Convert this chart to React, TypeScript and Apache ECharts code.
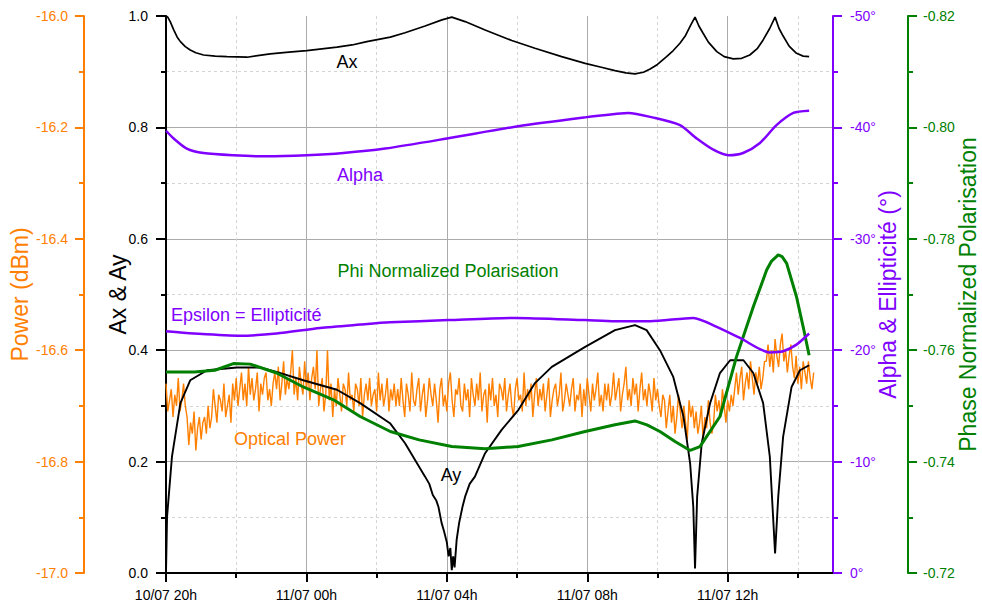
import React, { useEffect, useRef } from "react";
import * as echarts from "echarts";

const FONT = '"Liberation Sans", Arial, Helvetica, sans-serif';
const C_BLACK = "#000000";
const C_ORANGE = "#FF8000";
const C_PURPLE = "#8000FF";
const C_GREEN = "#008000";

// x values are hours elapsed since 10/07 20h
const X_MAJOR = [0, 4, 8, 12, 16];
const X_MINOR = [2, 6, 10, 14, 18];

// Ax (0..1)
const AX: [number, number][] = [
  [0, 1.0], [0.05, 0.998], [0.12, 0.99], [0.22, 0.975], [0.32, 0.962], [0.41, 0.954], [0.55, 0.945],
  [0.69, 0.939], [0.85, 0.934], [1.07, 0.93], [1.4, 0.928], [1.74, 0.927], [2.31, 0.926], [2.97, 0.932],
  [3.5, 0.935], [4.01, 0.938], [4.87, 0.944], [5.3, 0.948], [5.72, 0.954], [6.39, 0.962], [6.81, 0.97],
  [7.38, 0.982], [7.86, 0.993], [8.14, 0.998], [8.52, 0.99], [9.09, 0.975], [9.85, 0.956], [10.51, 0.942],
  [11.27, 0.927], [11.94, 0.915], [12.4, 0.908], [12.79, 0.902], [13.1, 0.898], [13.36, 0.896], [13.6, 0.899],
  [13.79, 0.905], [14.0, 0.913], [14.26, 0.927], [14.45, 0.938], [14.64, 0.951], [14.8, 0.965], [14.95, 0.984],
  [15.07, 0.998], [15.18, 0.982], [15.3, 0.969], [15.45, 0.953], [15.69, 0.936], [15.9, 0.927], [16.16, 0.923],
  [16.4, 0.924], [16.63, 0.93], [16.85, 0.942], [17.01, 0.957], [17.2, 0.978], [17.35, 0.998], [17.46, 0.978],
  [17.58, 0.964], [17.75, 0.946], [17.96, 0.933], [18.15, 0.928], [18.32, 0.927],
];

// Ay (0..1)
const AY: [number, number][] = [
  [0, 0.0], [0.03, 0.101], [0.17, 0.209], [0.41, 0.305], [0.69, 0.346], [1.17, 0.364], [2.02, 0.369],
  [2.68, 0.369], [3.15, 0.361], [3.91, 0.346], [4.87, 0.329], [5.53, 0.305], [6.38, 0.269], [6.81, 0.233],
  [7.38, 0.173], [7.5, 0.16], [7.6, 0.14], [7.7, 0.13], [7.76, 0.119], [7.85, 0.09], [7.92, 0.075],
  [8.0, 0.055], [8.05, 0.03], [8.1, 0.045], [8.14, 0.005], [8.18, 0.03], [8.22, 0.01], [8.28, 0.06],
  [8.35, 0.09], [8.45, 0.12], [8.52, 0.137], [8.65, 0.16], [8.8, 0.173], [9.09, 0.215], [9.56, 0.257],
  [10.04, 0.293], [10.51, 0.341], [10.99, 0.37], [11.94, 0.406], [12.79, 0.436], [13.36, 0.445],
  [13.69, 0.436], [14.07, 0.4], [14.45, 0.352], [14.74, 0.281], [14.93, 0.197], [15.02, 0.119],
  [15.07, 0.008], [15.13, 0.137], [15.26, 0.233], [15.5, 0.305], [15.78, 0.359], [16.07, 0.382],
  [16.45, 0.382], [16.73, 0.359], [17.01, 0.305], [17.2, 0.209], [17.35, 0.035], [17.44, 0.137],
  [17.58, 0.245], [17.82, 0.334], [18.06, 0.364], [18.32, 0.373],
];

// Alpha (degrees)
const ALPHA: [number, number][] = [
  [0, -39.7], [0.22, -39.0], [0.59, -38.1], [1.07, -37.7], [1.92, -37.5], [2.87, -37.4], [4.01, -37.5],
  [5.05, -37.7], [6.24, -38.1], [8.0, -39.0], [10.03, -40.1], [11.94, -40.9], [12.79, -41.2], [13.17, -41.3],
  [13.85, -40.9], [14.64, -40.2], [15.12, -39.0], [15.59, -38.0], [16.02, -37.5], [16.44, -37.7],
  [16.92, -38.6], [17.39, -40.2], [17.87, -41.3], [18.32, -41.5],
];

// Epsilon = ellipticity (degrees)
const EPSILON: [number, number][] = [
  [0, -21.7], [0.79, -21.5], [2.11, -21.3], [3.15, -21.5], [4.39, -22.0], [5.53, -22.3], [6.38, -22.5],
  [8.04, -22.7], [9.94, -22.9], [11.94, -22.7], [12.79, -22.6], [13.79, -22.6], [15.02, -22.9],
  [15.69, -22.1], [16.35, -21.1], [17.2, -19.8], [17.58, -19.9], [17.96, -20.5], [18.32, -21.5],
];

// Phi normalized polarisation
const PHI: [number, number][] = [
  [0, -0.7561], [0.81, -0.7561], [1.39, -0.7564], [1.92, -0.7576], [2.4, -0.7575], [3.15, -0.7559],
  [3.91, -0.7534], [4.77, -0.7511], [5.53, -0.7481], [6.39, -0.7454], [7.21, -0.7439], [8.14, -0.7427],
  [9.09, -0.7423], [10.03, -0.7427], [10.99, -0.7439], [11.94, -0.7454], [12.79, -0.7466], [13.36, -0.7473],
  [13.7, -0.7466], [14.07, -0.7454], [14.5, -0.7436], [14.93, -0.742], [15.21, -0.7427], [15.78, -0.7481],
  [16.25, -0.7588], [16.73, -0.7678], [17.11, -0.7744], [17.25, -0.776], [17.44, -0.7771], [17.55, -0.7768],
  [17.68, -0.7756], [17.96, -0.7696], [18.15, -0.7642], [18.32, -0.7591],
];

// Optical power (dBm), one reading every 0.05 h from 10/07 20h
const POWER_STEP = 0.05;
const POWER: number[] = [
  -16.66, -16.71, -16.69, -16.67, -16.72, -16.68, -16.70, -16.65, -16.71, -16.69, -16.66, -16.70,
  -16.72, -16.77, -16.73, -16.75, -16.71, -16.78, -16.74, -16.72, -16.76, -16.73,
  -16.72, -16.75, -16.70, -16.74,
  -16.72, -16.67, -16.70, -16.73, -16.68, -16.69, -16.71, -16.66, -16.72, -16.70, -16.68, -16.73,
  -16.66, -16.69, -16.65, -16.70,
  -16.67, -16.64, -16.69, -16.66, -16.70, -16.63, -16.68, -16.65, -16.69, -16.67,
  -16.64, -16.71, -16.66, -16.68, -16.65, -16.64, -16.69, -16.67, -16.70, -16.66,
  -16.64, -16.67, -16.63, -16.69, -16.66, -16.62, -16.68, -16.65, -16.67, -16.64,
  -16.60, -16.68, -16.65, -16.69, -16.63, -16.66, -16.68, -16.62, -16.67, -16.64,
  -16.69, -16.65, -16.63, -16.67,
  -16.60, -16.70, -16.67, -16.65, -16.71, -16.68, -16.60, -16.69, -16.66, -16.72,
  -16.67, -16.70, -16.65, -16.68, -16.71, -16.66, -16.67, -16.70, -16.64, -16.69,
  -16.68, -16.71, -16.66, -16.67, -16.70, -16.65, -16.72, -16.68, -16.66, -16.69,
  -16.65, -16.70, -16.68, -16.67, -16.71, -16.64, -16.69, -16.66, -16.70, -16.68,
  -16.65, -16.71, -16.67, -16.69, -16.66, -16.70,
  -16.67, -16.70, -16.65, -16.69, -16.72, -16.66, -16.68, -16.71, -16.64, -16.69,
  -16.70, -16.67, -16.65, -16.71, -16.68, -16.66, -16.72, -16.69, -16.65, -16.68,
  -16.70, -16.66, -16.69, -16.73, -16.67, -16.65, -16.70, -16.68, -16.71, -16.66,
  -16.64, -16.69, -16.72, -16.67, -16.68, -16.65, -16.70, -16.71, -16.66, -16.69,
  -16.67, -16.72, -16.65, -16.68, -16.70, -16.66, -16.69, -16.64, -16.71, -16.68,
  -16.67, -16.73, -16.66, -16.69, -16.65, -16.70, -16.68, -16.72, -16.66, -16.67,
  -16.69, -16.65, -16.71, -16.68, -16.66, -16.70, -16.72, -16.67, -16.65, -16.69,
  -16.68, -16.71, -16.64, -16.70, -16.67, -16.69, -16.66, -16.72, -16.68, -16.65,
  -16.70, -16.67, -16.69, -16.66, -16.71, -16.68, -16.65, -16.72, -16.69, -16.67,
  -16.66, -16.70, -16.68, -16.64, -16.71, -16.69, -16.66, -16.68, -16.70, -16.67,
  -16.65, -16.71, -16.68, -16.69, -16.66, -16.72, -16.67, -16.70, -16.65, -16.68,
  -16.71, -16.66, -16.69, -16.67, -16.64, -16.70, -16.68, -16.71, -16.66, -16.69,
  -16.66, -16.70, -16.68, -16.64, -16.69, -16.67, -16.65, -16.71, -16.68, -16.66,
  -16.63, -16.69, -16.67, -16.70, -16.65, -16.68, -16.66, -16.71, -16.67, -16.64,
  -16.69, -16.67,
  -16.70, -16.66, -16.68, -16.71, -16.65, -16.69, -16.67, -16.70, -16.72, -16.68,
  -16.69, -16.74, -16.71, -16.68, -16.73, -16.70, -16.75, -16.72, -16.68, -16.71,
  -16.74, -16.70, -16.73, -16.76, -16.69, -16.72, -16.70, -16.74,
  -16.71, -16.75, -16.73, -16.70, -16.76, -16.72, -16.74, -16.69, -16.73, -16.75,
  -16.73, -16.68, -16.71, -16.69, -16.72, -16.67, -16.70, -16.73, -16.69, -16.71, -16.68, -16.70,
  -16.67, -16.64, -16.68, -16.65, -16.63, -16.69, -16.66, -16.64, -16.67, -16.62,
  -16.65, -16.68, -16.64, -16.66, -16.63, -16.67, -16.65, -16.62,
  -16.62, -16.59, -16.63, -16.60, -16.64, -16.58, -16.61, -16.63, -16.59, -16.57,
  -16.62, -16.60, -16.64, -16.61, -16.59, -16.63,
  -16.65, -16.61, -16.66, -16.63, -16.67, -16.62, -16.64, -16.66, -16.62, -16.65, -16.67, -16.64,
];

const GRID_LEFT = 166;
const GRID_RIGHT = 149;
const GRID_TOP = 16;
const GRID_BOTTOM = 35;

function xLabel(v: number): string {
  const total = 20 + v;
  const day = total >= 24 ? "11/07" : "10/07";
  const hh = Math.round(total % 24);
  return `${day} ${hh < 10 ? "0" + hh : hh}h`;
}

export default function App() {
  const ref = useRef<HTMLDivElement>(null);
  useEffect(() => {
    if (!ref.current) return;
    const chart = echarts.init(ref.current, null, { renderer: "svg" });
    const powerData = POWER.map((v, i) => [Math.round(i * POWER_STEP * 100) / 100, v]);
    const tickLabel = (color: string) => ({ color, fontSize: 14, fontFamily: FONT });
    const midY = GRID_TOP + (608 - GRID_TOP - GRID_BOTTOM) / 2;
    const titleFont = 23;
    const inFont = 18;

    chart.setOption({
      animation: false,
      backgroundColor: "#ffffff",
      grid: { left: GRID_LEFT, right: GRID_RIGHT, top: GRID_TOP, bottom: GRID_BOTTOM, containLabel: false },
      xAxis: [
        {
          type: "value",
          position: "bottom",
          min: 0,
          max: 19,
          axisLine: { show: true, onZero: false, lineStyle: { color: C_BLACK, width: 2 } },
          axisTick: { show: true, length: 9, customValues: X_MAJOR, lineStyle: { color: C_BLACK, width: 2 } },
          axisLabel: { show: true, customValues: X_MAJOR, margin: 15, formatter: (v: number) => xLabel(v), ...tickLabel(C_BLACK) },
          splitLine: { show: true, lineStyle: { color: "#ababab", width: 1 } },
        },
        {
          type: "value",
          position: "bottom",
          min: 0,
          max: 19,
          axisLine: { show: false, onZero: false },
          axisTick: { show: true, length: 5, customValues: X_MINOR, lineStyle: { color: C_BLACK, width: 2 } },
          axisLabel: { show: false, customValues: X_MINOR },
          splitLine: { show: true, lineStyle: { color: "#d4d4d4", width: 1, type: [3, 3] } },
        },
      ],
      yAxis: [
        {
          type: "value",
          position: "left",
          min: 0,
          max: 1,
          interval: 0.2,
          axisLine: { show: true, onZero: false, lineStyle: { color: C_BLACK, width: 2 } },
          axisTick: { show: true, length: 10, lineStyle: { color: C_BLACK, width: 2 } },
          minorTick: { show: true, splitNumber: 2, length: 5, lineStyle: { color: C_BLACK, width: 2 } },
          axisLabel: { margin: 18, formatter: (v: number) => v.toFixed(1), ...tickLabel(C_BLACK) },
          splitLine: { show: true, showMaxLine: false, showMinLine: false, lineStyle: { color: "#ababab", width: 1 } },
          minorSplitLine: { show: true, lineStyle: { color: "#d4d4d4", width: 1, type: [3, 3] } },
        },
        {
          type: "value",
          position: "left",
          offset: 82,
          min: -17,
          max: -16,
          interval: 0.2,
          axisLine: { show: true, onZero: false, lineStyle: { color: C_ORANGE, width: 2 } },
          axisTick: { show: true, length: 9, lineStyle: { color: C_ORANGE, width: 2 } },
          minorTick: { show: true, splitNumber: 2, length: 5, lineStyle: { color: C_ORANGE, width: 2 } },
          axisLabel: { margin: 16, formatter: (v: number) => v.toFixed(1), ...tickLabel(C_ORANGE) },
          splitLine: { show: false },
        },
        {
          type: "value",
          position: "right",
          offset: 0,
          min: -50,
          max: 0,
          interval: 10,
          inverse: true,
          axisLine: { show: true, onZero: false, lineStyle: { color: C_PURPLE, width: 2 } },
          axisTick: { show: true, length: 9, lineStyle: { color: C_PURPLE, width: 2 } },
          minorTick: { show: true, splitNumber: 2, length: 5, lineStyle: { color: C_PURPLE, width: 2 } },
          axisLabel: { margin: 17, formatter: (v: number) => `${Math.round(v) === 0 ? 0 : Math.round(v)}°`, ...tickLabel(C_PURPLE) },
          splitLine: { show: false },
        },
        {
          type: "value",
          position: "right",
          offset: 75,
          min: -0.82,
          max: -0.72,
          interval: 0.02,
          inverse: true,
          axisLine: { show: true, onZero: false, lineStyle: { color: C_GREEN, width: 2 } },
          axisTick: { show: true, length: 9, lineStyle: { color: C_GREEN, width: 2 } },
          minorTick: { show: true, splitNumber: 2, length: 5, lineStyle: { color: C_GREEN, width: 2 } },
          axisLabel: { margin: 15, formatter: (v: number) => v.toFixed(2), ...tickLabel(C_GREEN) },
          splitLine: { show: false },
        },
      ],
      series: [
        { name: "Optical Power", type: "line", xAxisIndex: 0, yAxisIndex: 1, data: powerData, showSymbol: false, symbol: "none", lineStyle: { color: C_ORANGE, width: 1.4 }, z: 2 },
        { name: "Ax", type: "line", xAxisIndex: 0, yAxisIndex: 0, data: AX, showSymbol: false, symbol: "none", lineStyle: { color: C_BLACK, width: 1.7 }, z: 3 },
        { name: "Ay", type: "line", xAxisIndex: 0, yAxisIndex: 0, data: AY, showSymbol: false, symbol: "none", lineStyle: { color: C_BLACK, width: 1.9 }, z: 3 },
        { name: "Phi Normalized Polarisation", type: "line", xAxisIndex: 0, yAxisIndex: 3, data: PHI, showSymbol: false, symbol: "none", lineStyle: { color: C_GREEN, width: 3 }, z: 4 },
        { name: "Alpha", type: "line", xAxisIndex: 0, yAxisIndex: 2, data: ALPHA, smooth: 0.25, showSymbol: false, symbol: "none", lineStyle: { color: C_PURPLE, width: 2.5 }, z: 5 },
        { name: "Epsilon", type: "line", xAxisIndex: 0, yAxisIndex: 2, data: EPSILON, smooth: 0.25, showSymbol: false, symbol: "none", lineStyle: { color: C_PURPLE, width: 2.5 }, z: 5 },
      ],
      graphic: [
        { type: "text", x: 20, y: midY, rotation: Math.PI / 2, style: { text: "Power (dBm)", fill: C_ORANGE, fontSize: titleFont, fontFamily: FONT, align: "center", verticalAlign: "middle" } },
        { type: "text", x: 118, y: midY, rotation: Math.PI / 2, style: { text: "Ax & Ay", fill: C_BLACK, fontSize: titleFont, fontFamily: FONT, align: "center", verticalAlign: "middle" } },
        { type: "text", x: 888, y: midY, rotation: Math.PI / 2, style: { text: "Alpha & Ellipticité (°)", fill: C_PURPLE, fontSize: titleFont, fontFamily: FONT, align: "center", verticalAlign: "middle" } },
        { type: "text", x: 968, y: midY, rotation: Math.PI / 2, style: { text: "Phase Normalized Polarisation", fill: C_GREEN, fontSize: titleFont, fontFamily: FONT, align: "center", verticalAlign: "middle" } },
        { type: "text", x: 347, y: 62, style: { text: "Ax", fill: C_BLACK, fontSize: inFont, fontFamily: FONT, align: "center", verticalAlign: "middle" }, z: 10 },
        { type: "text", x: 337, y: 175, style: { text: "Alpha", fill: C_PURPLE, fontSize: inFont, fontFamily: FONT, align: "left", verticalAlign: "middle" }, z: 10 },
        { type: "text", x: 448, y: 271, style: { text: "Phi Normalized Polarisation", fill: C_GREEN, fontSize: inFont, fontFamily: FONT, align: "center", verticalAlign: "middle" }, z: 10 },
        { type: "text", x: 171, y: 315, style: { text: "Epsilon = Ellipticité", fill: C_PURPLE, fontSize: inFont, fontFamily: FONT, align: "left", verticalAlign: "middle" }, z: 10 },
        { type: "text", x: 234, y: 439, style: { text: "Optical Power", fill: C_ORANGE, fontSize: inFont, fontFamily: FONT, align: "left", verticalAlign: "middle" }, z: 10 },
        { type: "text", x: 451, y: 475, style: { text: "Ay", fill: C_BLACK, fontSize: inFont, fontFamily: FONT, align: "center", verticalAlign: "middle" }, z: 10 },
      ],
    });
    return () => chart.dispose();
  }, []);

  return <div ref={ref} style={{ position: "fixed", left: 0, top: 0, width: 982, height: 608, background: "#fff" }} />;
}
